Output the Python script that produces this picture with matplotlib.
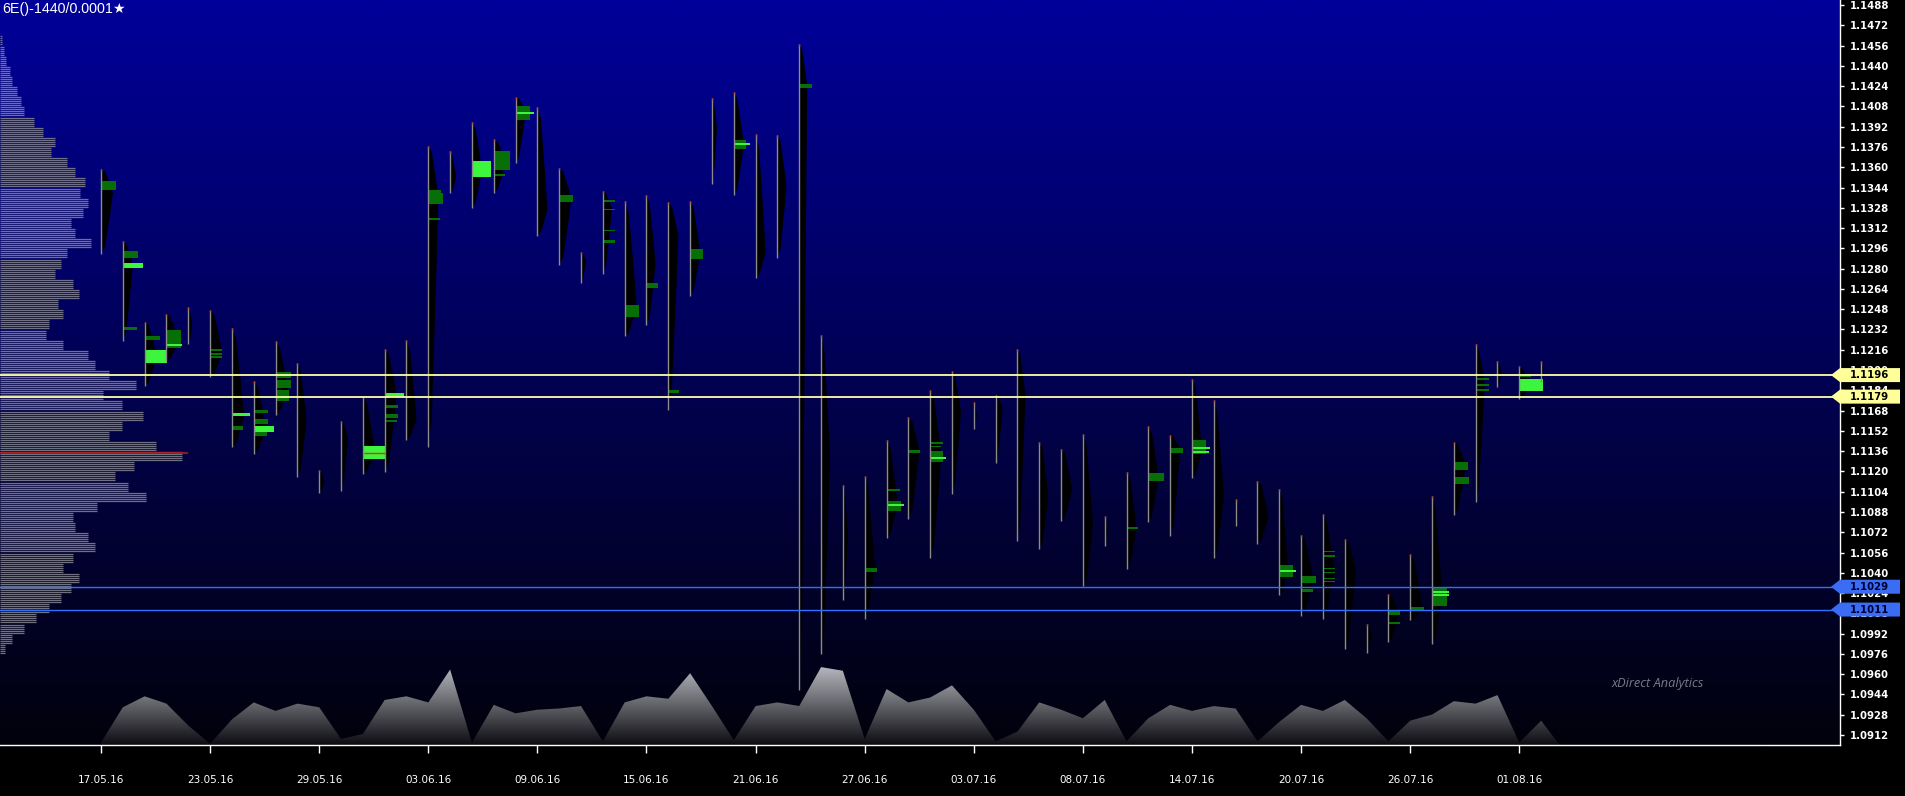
import numpy as np
import matplotlib.pyplot as plt
import matplotlib.transforms as mtransforms
from matplotlib.patches import Polygon, Rectangle
from matplotlib.colors import LinearSegmentedColormap

#########
# Data
#########
# daily (1440 min) bars of 6E, index 0 = 17.05.16
high = [1.13587, 1.13019, 1.12381, 1.12442, 1.12497, 1.12473, 1.12328, 1.11911, 1.12227, 1.12052,
        1.11214, 1.11598, 1.11791, 1.12166, 1.12236, 1.13771, 1.13725, 1.13955, 1.13820, 1.14158,
        1.14078, 1.13593, 1.12930, 1.13415, 1.13332, 1.13378, 1.13326, 1.13332, 1.14146, 1.14192,
        1.13860, 1.13854, 1.14575, 1.12279, 1.11091, 1.11162, 1.11450, 1.11629, 1.11843, 1.11991,
        1.11751, 1.11803, 1.12166, 1.11435, 1.11380, 1.11496, 1.10852, 1.11199, 1.11558, 1.11490,
        1.11929, 1.11767, 1.10984, 1.11128, 1.11061, 1.10702, 1.10861, 1.10668, 1.09996, 1.10232,
        1.10548, 1.11008, 1.11435, 1.12203, 1.12068, 1.12028, 1.12068]
low = [1.12918, 1.12227, 1.11874, 1.12074, 1.12203, 1.11942, 1.11389, 1.11340, 1.11644, 1.11153,
       1.11030, 1.11045, 1.11183, 1.11199, 1.11451, 1.11389, 1.13394, 1.13280, 1.13400, 1.13630,
       1.13059, 1.12832, 1.12690, 1.12758, 1.12267, 1.12359, 1.11687, 1.12586, 1.13464, 1.13378,
       1.12724, 1.12887, 1.09478, 1.09759, 1.10186, 1.10033, 1.10671, 1.10827, 1.10520, 1.11024,
       1.11536, 1.11269, 1.10652, 1.10591, 1.10809, 1.10293, 1.10612, 1.10431, 1.10800, 1.10692,
       1.11146, 1.10517, 1.10769, 1.10631, 1.10226, 1.10063, 1.10038, 1.09799, 1.09767, 1.09854,
       1.10026, 1.09838, 1.10855, 1.10959, 1.11868, 1.11773, 1.11905]
# point of control of each daily profile
poc = [1.1340, 1.1283, 1.1211, 1.1223, 1.1235, 1.1214, 1.1164, 1.1154, 1.1186, 1.1161,
       1.1112, 1.1146, 1.1135, 1.1180, 1.1161, 1.1336, 1.1352, 1.1358, 1.1364, 1.1403,
       1.1327, 1.1335, 1.1286, 1.1327, 1.1250, 1.1284, 1.1306, 1.1292, 1.1391, 1.1378,
       1.1293, 1.1345, 1.1424, 1.1131, 1.1069, 1.1045, 1.1094, 1.1136, 1.1131, 1.1167,
       1.1164, 1.1170, 1.1180, 1.1100, 1.1106, 1.1078, 1.1072, 1.1075, 1.1115, 1.1137,
       1.1137, 1.1100, 1.1088, 1.1085, 1.1042, 1.1035, 1.1042, 1.1042, 1.0990, 1.1008,
       1.1012, 1.1023, 1.1124, 1.1189, 1.1198, 1.1188, 1.1198]
# max profile volume per day (drawn in pixels)
prof_vol = [12, 10, 12, 12, 4, 12, 12, 12, 12, 9, 5, 7, 12, 12, 10, 10, 6, 10, 12, 10,
            10, 12, 5, 9, 12, 9, 10, 10, 5, 10, 10, 9, 8, 9, 5, 10, 11, 11, 11, 9,
            3, 7, 8, 9, 11, 10, 3, 10, 10, 10, 10, 10, 3, 11, 9, 12, 11, 11, 5, 10,
            12, 10, 12, 9, 4, 10, 3]
# daily volume (bottom area)
vol = [2, 31, 40, 34, 16, 1, 21, 35, 28, 34, 31, 5, 9, 37, 40, 35, 62, 2, 33, 26,
       29, 30, 32, 3, 35, 40, 38, 59, 32, 4, 32, 35, 32, 64, 61, 5, 46, 35, 39, 49,
       29, 3, 11, 35, 29, 22, 37, 3, 22, 33, 28, 32, 30, 3, 19, 33, 28, 37, 22, 3,
       20, 25, 36, 34, 41, 2, 20]

# high volume clusters: (bar, top, bottom, volume, strong)
clusters = [
    (0, 1.13492, 1.13424, 14, 0),
    (1, 1.12939, 1.12887, 14, 0), (1, 1.12847, 1.12804, 19, 1), (1, 1.12341, 1.12313, 13, 0),
    (2, 1.12270, 1.12233, 14, 0), (2, 1.12156, 1.12052, 21, 1),
    (3, 1.12316, 1.12175, 14, 0), (3, 1.12209, 1.12193, 15, 1),
    (5, 1.12166, 1.12150, 11, 0), (5, 1.12138, 1.12122, 11, 0), (5, 1.12111, 1.12095, 11, 0),
    (6, 1.11659, 1.11638, 17, 1), (6, 1.11555, 1.11530, 10, 0),
    (7, 1.11687, 1.11662, 13, 0), (7, 1.11613, 1.11576, 13, 0), (7, 1.11558, 1.11509, 19, 1),
    (7, 1.11509, 1.11481, 12, 0),
    (8, 1.11982, 1.11940, 14, 0), (8, 1.11920, 1.11860, 14, 0), (8, 1.11840, 1.11757, 12, 0),
    (12, 1.11398, 1.11300, 22, 1),
    (13, 1.11822, 1.11785, 18, 1), (13, 1.11721, 1.11699, 12, 0), (13, 1.11650, 1.11625, 12, 0),
    (13, 1.11604, 1.11588, 11, 0),
    (15, 1.13424, 1.13400, 12, 0), (15, 1.13393, 1.13311, 14, 0), (15, 1.13203, 1.13185, 11, 0),
    (17, 1.13648, 1.13522, 18, 1),
    (18, 1.13725, 1.13578, 15, 0), (18, 1.13547, 1.13530, 10, 0),
    (19, 1.14084, 1.13971, 13, 0), (19, 1.14038, 1.14023, 17, 1),
    (21, 1.13378, 1.13326, 13, 0),
    (23, 1.13338, 1.13326, 11, 0), (23, 1.13271, 1.13259, 11, 0), (23, 1.13108, 1.13096, 11, 0),
    (23, 1.13022, 1.13000, 11, 0),
    (24, 1.12516, 1.12417, 13, 0),
    (25, 1.12688, 1.12648, 11, 0),
    (26, 1.11840, 1.11819, 10, 0),
    (27, 1.12955, 1.12872, 12, 0),
    (29, 1.13811, 1.13746, 11, 0), (29, 1.13793, 1.13774, 15, 1),
    (32, 1.14259, 1.14225, 12, 0),
    (35, 1.10434, 1.10407, 11, 0),
    (36, 1.11061, 1.11045, 12, 0), (36, 1.10969, 1.10889, 13, 0), (36, 1.10944, 1.10929, 16, 1),
    (37, 1.11371, 1.11346, 11, 0),
    (38, 1.11435, 1.11420, 12, 0), (38, 1.11404, 1.11389, 10, 0), (38, 1.11361, 1.11276, 12, 0),
    (38, 1.11312, 1.11297, 15, 1),
    (47, 1.10763, 1.10745, 10, 0),
    (48, 1.11190, 1.11128, 15, 0),
    (49, 1.11383, 1.11349, 12, 0),
    (50, 1.11444, 1.11337, 13, 0), (50, 1.11392, 1.11374, 17, 1), (50, 1.11362, 1.11346, 16, 1),
    (54, 1.10462, 1.10370, 13, 0), (54, 1.10425, 1.10407, 16, 1),
    (55, 1.10373, 1.10318, 14, 0), (55, 1.10275, 1.10250, 11, 0),
    (56, 1.10575, 1.10565, 11, 0), (56, 1.10538, 1.10528, 11, 0), (56, 1.10437, 1.10427, 11, 0),
    (56, 1.10406, 1.10396, 11, 0), (56, 1.10360, 1.10350, 11, 0), (56, 1.10335, 1.10325, 11, 0),
    (59, 1.10103, 1.10066, 11, 0), (59, 1.10014, 1.09999, 11, 0),
    (60, 1.10134, 1.10103, 13, 0),
    (61, 1.10284, 1.10140, 14, 0), (61, 1.10260, 1.10244, 16, 1), (61, 1.10229, 1.10214, 16, 1),
    (62, 1.11276, 1.11214, 13, 0), (62, 1.11153, 1.11101, 14, 0),
    (63, 1.11936, 1.11920, 12, 0), (63, 1.11889, 1.11871, 12, 0), (63, 1.11852, 1.11834, 12, 0),
    (65, 1.11966, 1.11945, 11, 0), (65, 1.11926, 1.11834, 23, 1),
]

# composite profile of the whole period
comp_price = [1.1460, 1.1452, 1.1444, 1.1436, 1.1428, 1.1420, 1.1412, 1.1404, 1.1396, 1.1388,
              1.1380, 1.1372, 1.1364, 1.1356, 1.1348, 1.1340, 1.1332, 1.1324, 1.1316, 1.1308,
              1.1300, 1.1292, 1.1284, 1.1276, 1.1268, 1.1260, 1.1252, 1.1244, 1.1236, 1.1228,
              1.1220, 1.1212, 1.1204, 1.1196, 1.1188, 1.1180, 1.1172, 1.1164, 1.1156, 1.1148,
              1.1140, 1.1132, 1.1124, 1.1116, 1.1108, 1.1100, 1.1092, 1.1084, 1.1076, 1.1068,
              1.1060, 1.1052, 1.1044, 1.1036, 1.1028, 1.1020, 1.1012, 1.1004, 1.0996, 1.0988,
              1.0980]
comp_vol = [2, 3, 5, 8, 10, 14, 17, 20, 28, 35, 45, 42, 55, 62, 70, 66, 72, 68, 58, 62,
            75, 55, 50, 45, 60, 65, 48, 52, 40, 38, 52, 72, 78, 90, 112, 85, 100, 118, 100, 90,
            128, 150, 110, 95, 105, 120, 80, 60, 62, 72, 78, 60, 52, 65, 58, 50, 40, 30, 20, 10, 4]
comp_poc = 1.11346
comp_poc_vol = 155

yellow_levels = [1.1196, 1.1179]
blue_levels = [1.1029, 1.1011]

date_labels = ['17.05.16', '23.05.16', '29.05.16', '03.06.16', '09.06.16', '15.06.16', '21.06.16',
               '27.06.16', '03.07.16', '08.07.16', '14.07.16', '20.07.16', '26.07.16', '01.08.16']
price_ticks = [round(1.0912 + 0.0016 * k, 4) for k in range(37)]

#########
# Layout
#########
W, H = 1906, 796
PX = 21.82            # pixels per bar
PPX = 1 / 12674.0     # price per pixel
n = len(high)
idx = np.arange(n)

fig = plt.figure(figsize=(W / 100, H / 100), dpi=100, facecolor='black')
ax = fig.add_axes([0, 51 / H, 1840 / W, 745 / H])
x0, x1 = -101 / PX, (1840 - 101) / PX
y1 = 1.1488 + 5 * PPX
y0 = y1 - 745 * PPX

# background gradient
bg = LinearSegmentedColormap.from_list('bg', ['#02020c', '#00009a'])
ax.imshow(np.linspace(1, 0, 256).reshape(-1, 1), cmap=bg, aspect='auto',
          extent=[x0, x1, y0, y1], zorder=0, interpolation='bilinear')

# composite profile on the left, drawn as thin horizontal lines
for p, v in zip(comp_price, comp_vol):
    for k in range(-2, 3):
        ax.hlines(p + k * 2 * PPX, x0, x0 + v * 1.2156 / PX, color='#85858f', alpha=0.85,
                  lw=0.9, zorder=2)
ax.hlines(comp_poc, x0, x0 + comp_poc_vol * 1.2156 / PX, color='#b01818', lw=1.2, zorder=2.5)

# volume area at the bottom
vt = ax.get_xaxis_transform()
verts = [(0, 0)] + [(i, v / 612) for i, v in enumerate(vol)] + [(n - 0.15, 0)]
vpoly = Polygon(verts, closed=True, transform=vt, fc='none', ec='none')
ax.add_patch(vpoly)
vcm = LinearSegmentedColormap.from_list('v', ['#0c0c12', '#c4c4cc'])
im = ax.imshow(np.linspace(1, 0, 128).reshape(-1, 1), cmap=vcm, aspect='auto',
               extent=[x0, x1, 0, 85 / 745], transform=vt, zorder=1.5, interpolation='bilinear')
im.set_clip_path(vpoly)

# daily profiles
for i in range(n):
    w = prof_vol[i] / PX
    hi, lo, pc = high[i], low[i], poc[i]
    pts = [(i, hi), (i + 0.35 * w, hi - 0.12 * (hi - pc)), (i + 0.8 * w, pc + 0.3 * (hi - pc)),
           (i + w, pc), (i + 0.8 * w, pc - 0.3 * (pc - lo)), (i + 0.35 * w, lo + 0.12 * (pc - lo)),
           (i, lo)]
    ax.add_patch(Polygon(pts, closed=True, fc='black', ec='none', zorder=3))

for b, top, bot, v, strong in clusters:
    ax.add_patch(Rectangle((b + 1 / PX, bot), v / PX, top - bot, lw=0, zorder=3.5,
                           fc='#3cf53c' if strong else '#067006'))

ax.vlines(idx, low, high, color='#8c8c8c', lw=1.0, zorder=4)
ax.vlines(idx, np.array(high) - 2 * PPX, high, color='#c8401a', lw=1.0, zorder=4.5)
ax.hlines(comp_poc, 12 + 1 / PX, 13, color='#ff2020', lw=1.0, zorder=4)

# key levels
for p in yellow_levels:
    ax.axhline(p, color='#ffffa8', lw=1.3, zorder=6)
for p in blue_levels:
    ax.axhline(p, color='#3070ff', lw=1.0, zorder=6)

tr = mtransforms.blended_transform_factory(ax.transAxes, ax.transData)
xa, xb, xc = 1831 / 1840, 1.0, 1900 / 1840
for levels, fc, tc in [(yellow_levels, '#ffff99', 'black'), (blue_levels, '#3a6cf4', '#000030')]:
    for p in levels:
        h = 7 * PPX
        ax.add_patch(Polygon([(xa, p), (xb, p + h), (xc, p + h), (xc, p - h), (xb, p - h)],
                             closed=True, transform=tr, fc=fc, ec='none', clip_on=False, zorder=20))
        ax.text(1869.5 / 1840, p, f'{p:.4f}', transform=tr, ha='center', va='center',
                fontsize=7.3, fontweight='bold', color=tc, zorder=21, clip_on=False)

# axes
ax.set_xlim(x0, x1)
ax.set_ylim(y0, y1)
ax.set_xticks(range(0, 5 * len(date_labels), 5))
ax.set_xticklabels(date_labels, fontsize=7.5, color='white')
ax.yaxis.tick_right()
ax.set_yticks(price_ticks)
ax.set_yticklabels([f'{p:.4f}' for p in price_ticks], fontsize=7.3, fontweight='bold', color='white')
ax.tick_params(axis='x', colors='white', length=5.8, width=1, pad=16)
ax.tick_params(axis='y', colors='white', length=2.9, width=1, pad=4.3)
for s in ['left', 'top']:
    ax.spines[s].set_visible(False)
for s in ['right', 'bottom']:
    ax.spines[s].set_color('white')
    ax.spines[s].set_linewidth(1)

fig.text(2 / W, 1 - 2 / H, '6E()-1440/0.0001\u2605', ha='left', va='top', fontsize=10.3,
         color='white', family=['Liberation Sans', 'DejaVu Sans'])
fig.text(1658 / W, 1 - 684 / H, 'xDirect Analytics', ha='center', va='center', fontsize=9.2,
         style='italic', color='#7a7a88', family='Open Sans')

fig.savefig('out.png', dpi=100, facecolor='black')
